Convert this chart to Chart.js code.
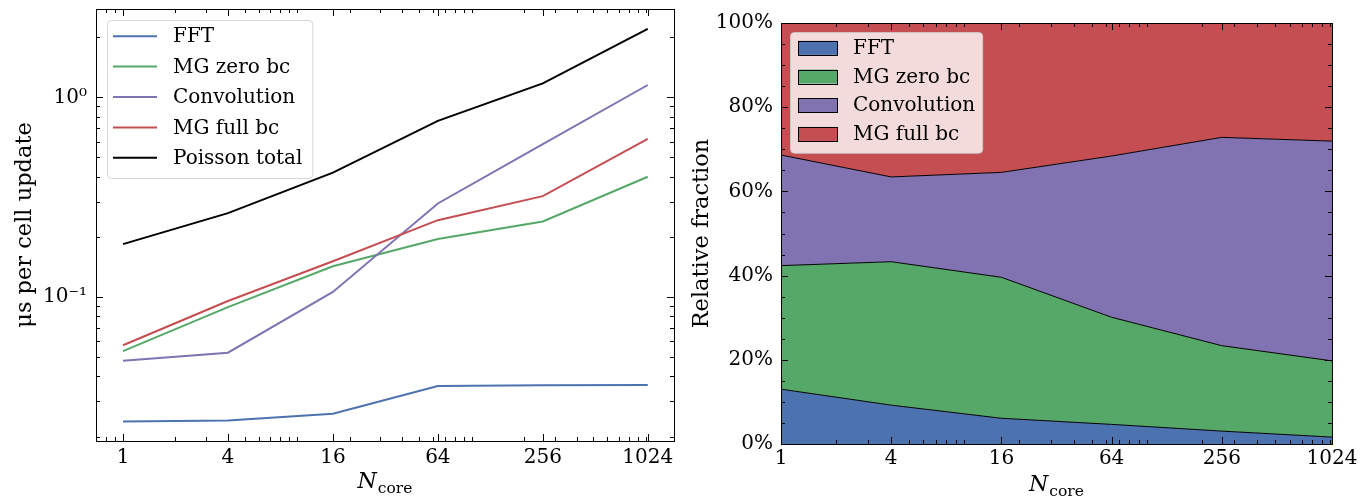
<!DOCTYPE html>
<html>
<head>
<meta charset="utf-8">
<script src="https://cdn.jsdelivr.net/npm/chart.js@4.4.1/dist/chart.umd.min.js"></script>
<style>
  html, body { margin: 0; padding: 0; background: #fff; }
  #wrap { position: relative; width: 1367px; height: 497px; overflow: hidden; }
  canvas { position: absolute; top: 0; }
  #timing { left: 0; }
  #fraction { left: 680px; }
</style>
</head>
<body>
<div id="wrap">
  <canvas id="timing" width="680" height="497"></canvas>
  <canvas id="fraction" width="687" height="497"></canvas>
</div>
<script>
// Poisson solver cost per cell update vs. number of cores
const cores = [1, 4, 16, 64, 256, 1024];
const fftTime = [0.0238, 0.0241, 0.0260, 0.0358, 0.0361, 0.0362];
const mgZeroTime = [0.0536, 0.0890, 0.1425, 0.1953, 0.239, 0.400];
const convTime = [0.0480, 0.0526, 0.106, 0.294, 0.583, 1.153];
const mgFullTime = [0.0573, 0.0955, 0.151, 0.2425, 0.320, 0.620];
const poissonTotal = [0.184, 0.263, 0.420, 0.763, 1.175, 2.20];

const partNames = ['FFT', 'MG zero bc', 'Convolution', 'MG full bc'];
const partTimes = [fftTime, mgZeroTime, convTime, mgFullTime];
const partColors = ['#4C72B0', '#55A868', '#8172B2', '#C44E52'];

const timeTicks = [0.1, 1];
const fractionTicks = [0, 20, 40, 60, 80, 100];
const fractionMinor = [5, 10, 15, 25, 30, 35, 45, 50, 55, 65, 70, 75, 85, 90, 95];

const SERIF = '"DejaVu Serif", serif';
Chart.defaults.font.family = SERIF;
Chart.defaults.color = '#000';

const SUP = { '0': '⁰', '1': '¹', '2': '²', '3': '³', '4': '⁴', '5': '⁵', '6': '⁶', '7': '⁷', '8': '⁸', '9': '⁹', '-': '⁻' };
const pow10Label = (v) => '10' + String(Math.round(Math.log10(v))).split('').map((c) => SUP[c]).join('');

// 2..9 x 10^k minor ticks inside [min, max], skipping the labelled ones
function logMinors(min, max, skip) {
    const out = [];
    for (let k = Math.floor(Math.log10(min)); k <= Math.ceil(Math.log10(max)); k++) {
        for (let n = 1; n <= 9; n++) {
            const v = n * Math.pow(10, k);
            if (v >= min && v <= max && !skip.some((s) => Math.abs(s - v) / s < 1e-6)) out.push(v);
        }
    }
    return out;
}

// box around the plot with inward ticks on all four sides
const framePlugin = {
    id: 'frame',
    afterDatasetsDraw(chart, args, o) {
        const { ctx, chartArea: a, scales } = chart;
        ctx.save();
        ctx.strokeStyle = '#000';
        ctx.lineWidth = 1;
        const seg = (x1, y1, x2, y2) => { ctx.beginPath(); ctx.moveTo(x1, y1); ctx.lineTo(x2, y2); ctx.stroke(); };
        const xMarks = (vals, len) => vals.forEach((v) => {
            const x = Math.round(scales.x.getPixelForValue(v)) + 0.5;
            seg(x, a.bottom, x, a.bottom - len);
            seg(x, a.top, x, a.top + len);
        });
        const yMarks = (vals, len) => vals.forEach((v) => {
            const y = Math.round(scales.y.getPixelForValue(v)) + 0.5;
            seg(a.left, y, a.left + len, y);
            seg(a.right, y, a.right - len, y);
        });
        xMarks(o.xMajor, 7); xMarks(o.xMinor, 4);
        yMarks(o.yMajor, 7); yMarks(o.yMinor, 4);
        ctx.strokeRect(Math.round(a.left) + 0.5, Math.round(a.top) + 0.5,
            Math.round(a.right - a.left), Math.round(a.bottom - a.top));
        ctx.restore();
    },
};

// framed legend in the upper-left corner of the plot
const boxLegendPlugin = {
    id: 'boxLegend',
    afterDraw(chart, args, o) {
        const { ctx, chartArea: a } = chart;
        const sets = chart.data.datasets;
        ctx.save();
        ctx.font = '20px ' + SERIF;
        const textW = Math.max(...sets.map((d) => ctx.measureText(d.label).width));
        const x0 = a.left + o.dx, y0 = a.top + o.dy;
        const w = o.padL + o.handle + o.gap + textW + o.padR;
        const h = o.padT + sets.length * o.rowH + o.padB;
        ctx.beginPath();
        ctx.roundRect(x0 + 0.5, y0 + 0.5, w, h, 4);
        ctx.fillStyle = 'rgba(255,255,255,0.8)';
        ctx.fill();
        ctx.strokeStyle = 'rgba(204,204,204,0.8)';
        ctx.lineWidth = 1;
        ctx.stroke();
        sets.forEach((d, i) => {
            const cy = y0 + o.padT + o.rowH * (i + 0.5);
            const hx = x0 + o.padL;
            if (o.kind === 'line') {
                ctx.strokeStyle = d.borderColor;
                ctx.lineWidth = 2;
                ctx.beginPath();
                ctx.moveTo(hx, cy);
                ctx.lineTo(hx + o.handle, cy);
                ctx.stroke();
            } else {
                ctx.fillStyle = d.backgroundColor;
                ctx.fillRect(hx, cy - 7, o.handle, 14);
                ctx.strokeStyle = '#000';
                ctx.lineWidth = 1;
                ctx.strokeRect(Math.round(hx) + 0.5, Math.round(cy - 7) + 0.5, o.handle, 14);
            }
            ctx.fillStyle = '#000';
            ctx.textBaseline = 'middle';
            ctx.fillText(d.label, hx + o.handle + o.gap, cy + 1);
        });
        ctx.restore();
    },
};

// x axis title: italic N with roman "core" subscript
const nCorePlugin = {
    id: 'nCore',
    afterDraw(chart, args, o) {
        const { ctx, chartArea: a } = chart;
        ctx.save();
        ctx.fillStyle = '#000';
        ctx.textBaseline = 'alphabetic';
        const mainFont = 'italic 22px ' + SERIF, subFont = '15.5px ' + SERIF;
        ctx.font = mainFont;
        const wN = ctx.measureText('N').width;
        ctx.font = subFont;
        const wSub = ctx.measureText('core').width;
        const x = (a.left + a.right) / 2 - (wN + 1 + wSub) / 2;
        const y = a.bottom + o.dy;
        ctx.font = mainFont;
        ctx.fillText('N', x, y);
        ctx.font = subFont;
        ctx.fillText('core', x + wN + 1, y + 5);
        ctx.restore();
    },
};

const tickFont = { family: SERIF, size: 20 };
const titleFont = { family: SERIF, size: 22.5 };
const coreTicks = (s) => { s.ticks = cores.map((v) => ({ value: v })); };
const noPad = (s) => { s.paddingLeft = s.paddingRight = s.paddingTop = s.paddingBottom = 0; };

// left panel: absolute timings
const tMinX = Math.pow(2, -0.5), tMaxX = 1024 * Math.pow(2, 0.5);
const tMinY = 0.019, tMaxY = 2.77;
const lineSets = partNames.map((name, i) => ({
    label: name,
    data: cores.map((c, j) => ({ x: c, y: partTimes[i][j] })),
    borderColor: partColors[i],
}));
lineSets.push({ label: 'Poisson total', data: cores.map((c, j) => ({ x: c, y: poissonTotal[j] })), borderColor: '#000' });
lineSets.forEach((d, i) => Object.assign(d, { borderWidth: 2, pointRadius: 0, tension: 0, fill: false, order: lineSets.length - i }));

new Chart(document.getElementById('timing'), {
    type: 'line',
    data: { datasets: lineSets },
    options: {
        responsive: false,
        animation: false,
        events: [],
        layout: { padding: { left: 0, top: 9, right: 6, bottom: 0 } },
        scales: {
            x: {
                type: 'logarithmic', min: tMinX, max: tMaxX,
                afterBuildTicks: coreTicks,
                afterFit: (s) => { s.height = 56; noPad(s); },
                grid: { display: false, drawTicks: false },
                border: { display: false },
                ticks: { autoSkip: false, maxRotation: 0, padding: 5, font: tickFont, callback: (v) => String(v) },
            },
            y: {
                type: 'logarithmic', min: tMinY, max: tMaxY,
                afterBuildTicks: (s) => { s.ticks = timeTicks.map((v) => ({ value: v })); },
                afterFit: (s) => { s.width = 96; noPad(s); },
                grid: { display: false, drawTicks: false },
                border: { display: false },
                ticks: { padding: 9, font: tickFont, callback: (v) => pow10Label(v) },
                title: { display: true, text: 'μs per cell update', font: titleFont, padding: { top: 12 } },
            },
        },
        plugins: {
            legend: { display: false },
            tooltip: { enabled: false },
            frame: {
                xMajor: cores, xMinor: logMinors(tMinX, tMaxX, cores),
                yMajor: timeTicks, yMinor: logMinors(tMinY, tMaxY, timeTicks),
            },
            boxLegend: { kind: 'line', dx: 11, dy: 11, padL: 6, handle: 44, gap: 16, padR: 10, padT: 1, padB: 5, rowH: 30.4 },
            nCore: { dy: 47 },
        },
    },
    plugins: [framePlugin, boxLegendPlugin, nCorePlugin],
});

// right panel: share of each part, stacked to 100%
const partSum = cores.map((c, j) => partTimes.reduce((acc, t) => acc + t[j], 0));
const areaSets = partNames.map((name, i) => ({
    label: name,
    data: cores.map((c, j) => ({ x: c, y: 100 * partTimes[i][j] / partSum[j] })),
    backgroundColor: partColors[i],
    borderColor: '#000',
    borderWidth: 1,
    pointRadius: 0,
    tension: 0,
    fill: i === 0 ? 'origin' : '-1',
}));

new Chart(document.getElementById('fraction'), {
    type: 'line',
    data: { datasets: areaSets },
    options: {
        responsive: false,
        animation: false,
        events: [],
        layout: { padding: { left: 0, top: 23, right: 35, bottom: 0 } },
        scales: {
            x: {
                type: 'logarithmic', min: 1, max: 1024,
                afterBuildTicks: coreTicks,
                afterFit: (s) => { s.height = 53; noPad(s); },
                grid: { display: false, drawTicks: false },
                border: { display: false },
                ticks: { autoSkip: false, maxRotation: 0, padding: 3, font: tickFont, callback: (v) => String(v) },
            },
            y: {
                type: 'linear', stacked: true, min: 0, max: 100,
                afterBuildTicks: (s) => { s.ticks = fractionTicks.map((v) => ({ value: v })); },
                afterFit: (s) => { s.width = 101; noPad(s); },
                grid: { display: false, drawTicks: false },
                border: { display: false },
                ticks: { padding: 8, font: tickFont, callback: (v) => v + '%' },
                title: { display: true, text: 'Relative fraction', font: titleFont, padding: { top: 9 } },
            },
        },
        plugins: {
            legend: { display: false },
            tooltip: { enabled: false },
            filler: { propagate: false },
            frame: {
                xMajor: cores, xMinor: logMinors(1, 1024, cores),
                yMajor: fractionTicks, yMinor: fractionMinor,
            },
            boxLegend: { kind: 'patch', dx: 9, dy: 9, padL: 8, handle: 39, gap: 16, padR: 7, padT: 1.5, padB: 4.5, rowH: 28.7 },
            nCore: { dy: 47 },
        },
    },
    plugins: [framePlugin, boxLegendPlugin, nCorePlugin],
});
</script>
</body>
</html>
